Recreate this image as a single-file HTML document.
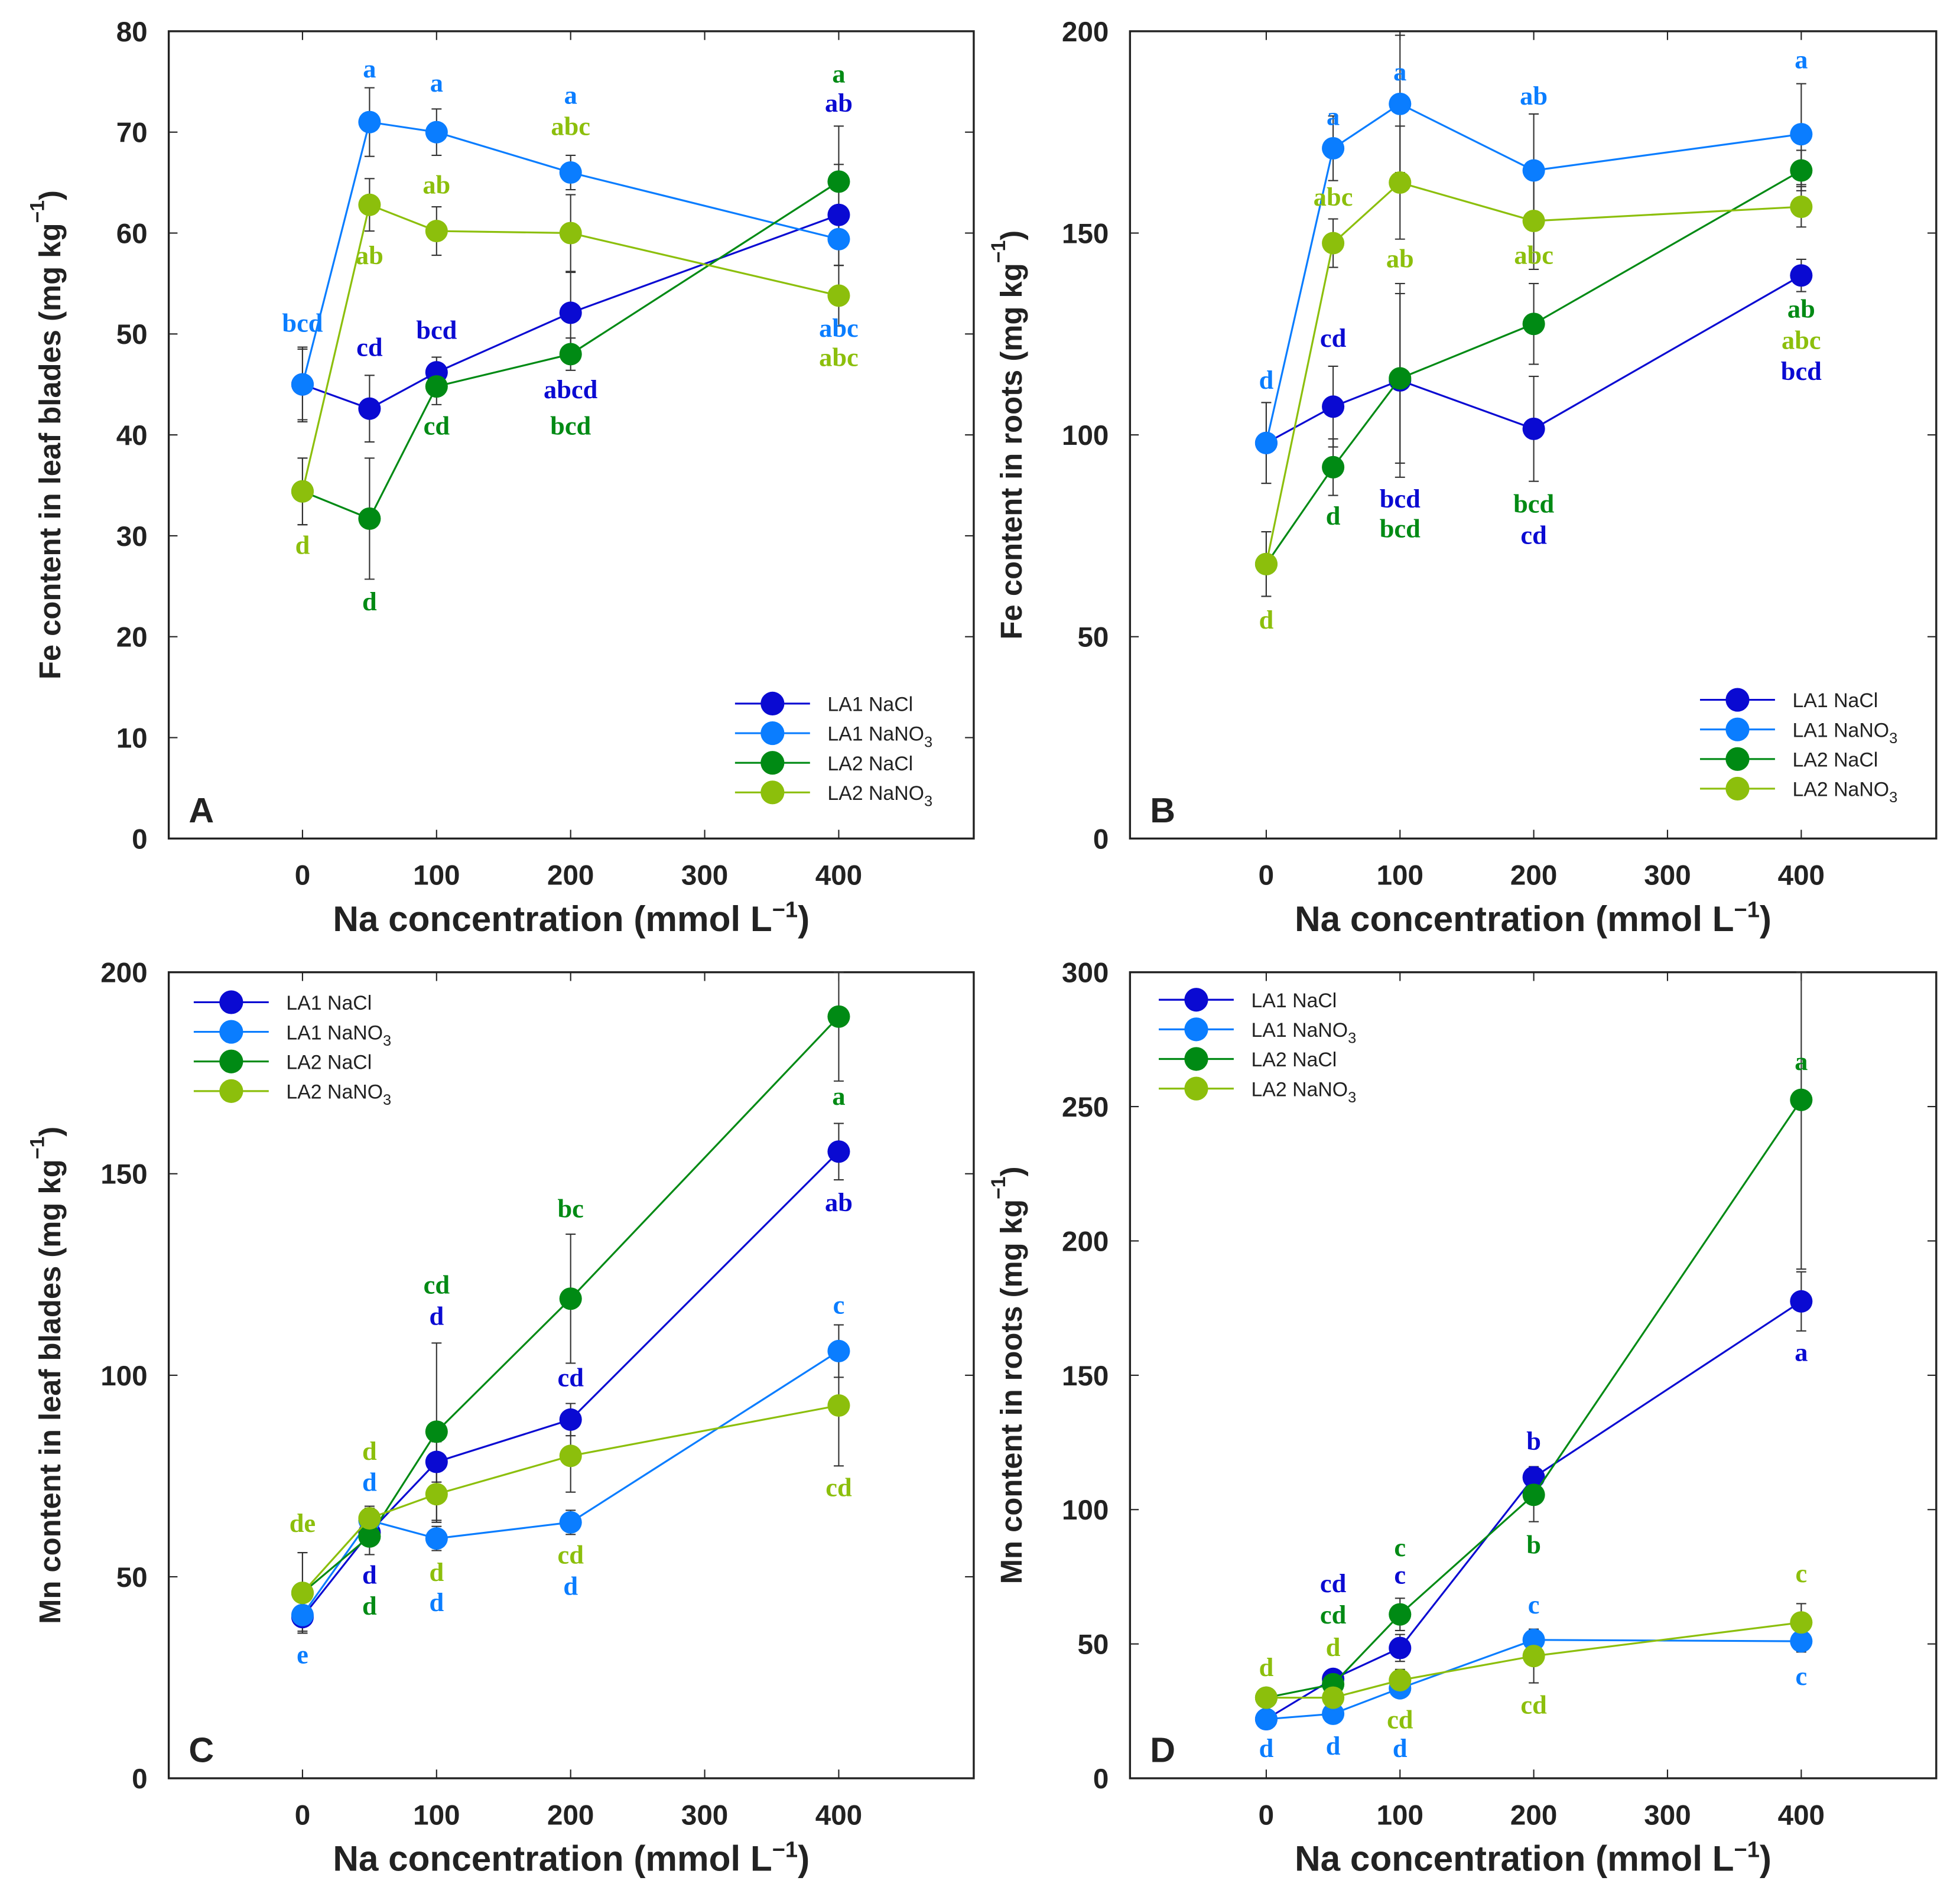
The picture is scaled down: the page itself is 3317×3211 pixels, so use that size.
<!DOCTYPE html>
<html><head><meta charset="utf-8"><style>
html,body{margin:0;padding:0;background:#fff}
svg{display:block}
.tk{font-family:"Liberation Sans",sans-serif;font-weight:bold;font-size:22.5px;fill:#222}
.ttl{font-family:"Liberation Sans",sans-serif;font-weight:bold;fill:#222}
.lab{font-family:"Liberation Serif",serif;font-weight:bold;font-size:21px}
.leg{font-family:"Liberation Sans",sans-serif;font-size:16px;fill:#222}
</style></head><body>
<svg id="fig" width="3317" height="3211" viewBox="0 0 1568 1518" preserveAspectRatio="none" xmlns="http://www.w3.org/2000/svg"></svg>
<script>
const xCats=[0,50,100,200,400];
const xTicks=[0,100,200,300,400];
const seriesNames=["LA1 NaCl","LA1 NaNO3","LA2 NaCl","LA2 NaNO3"];
const seriesColors=["#0a0ad2","#0a7dff","#008a14","#8cbf0c"];
// Panel A: Fe leaf blades
const aTicks=[0,10,20,30,40,50,60,70,80];
const aLA1NaCl=[45,42.6,46.2,52.1,61.8];
const aLA1NaNO3=[45,71,70,66,59.4];
const aLA2NaCl=[34.4,31.7,44.8,48,65.1];
const aLA2NaNO3=[34.4,62.8,60.2,60,53.8];
const aErrLA1NaCl=[3.5,3.3,1.5,4,5];
const aErrLA1NaNO3=[3.7,3.4,2.3,1.7,2.6];
const aErrLA2NaCl=[3.3,6,1.8,1.6,5.5];
const aErrLA2NaNO3=[3.3,2.6,2.4,3.8,3];
const aLabels=[[0,51.1,"bcd",1],[0,29.1,"d",3],[50,76.3,"a",1],[50,57.8,"ab",3],[50,48.7,"cd",0],[50,23.5,"d",2],
[100,74.9,"a",1],[100,64.8,"ab",3],[100,50.4,"bcd",0],[100,40.9,"cd",2],[200,73.7,"a",1],[200,70.6,"abc",3],[200,44.5,"abcd",0],[200,40.9,"bcd",2],
[400,75.8,"a",2],[400,72.9,"ab",0],[400,50.6,"abc",1],[400,47.7,"abc",3]];
// Panel B: Fe roots
const bTicks=[0,50,100,150,200];
const bLA1NaCl=[98,107,113.5,101.5,139.5];
const bLA1NaNO3=[98,171,182,165.5,174.5];
const bLA2NaCl=[68,92,114,127.5,165.5];
const bLA2NaNO3=[68,147.5,162.5,153,156.5];
const bErrLA1NaCl=[10,10,24,13,4];
const bErrLA1NaNO3=[10,8,17,14,12.5];
const bErrLA2NaCl=[8,7,21,10,5];
const bErrLA2NaNO3=[8,6,14,12,5];
const bLabels=[[0,113.6,"d",1],[0,54.2,"d",3],[50,179,"a",1],[50,159,"abc",3],[50,124,"cd",0],[50,80,"d",2],
[100,190,"a",1],[100,143.7,"ab",3],[100,84.2,"bcd",0],[100,76.8,"bcd",2],[200,184,"ab",1],[200,144.6,"abc",3],[200,83,"bcd",2],[200,75.2,"cd",0],
[400,193,"a",1],[400,131.3,"ab",2],[400,123.5,"abc",3],[400,115.8,"bcd",0]];
// Panel C: Mn leaf blades
const cTicks=[0,50,100,150,200];
const cLA1NaCl=[40,61,78.5,89,155.5];
const cLA1NaNO3=[40.5,64,59.5,63.5,106];
const cLA2NaCl=[46,60,86,119,189];
const cLA2NaNO3=[46,64.5,70.5,80,92.5];
const cErrLA1NaCl=[4,3,5,4,7];
const cErrLA1NaNO3=[4,3,3,3,6.5];
const cErrLA2NaCl=[10,4.5,22,16,16];
const cErrLA2NaNO3=[10,3,7,9,15];
const cLabels=[[0,63.3,"de",3],[0,30.7,"e",1],[50,81.2,"d",3],[50,73.5,"d",1],[50,50.5,"d",0],[50,42.8,"d",2],
[100,122.5,"cd",2],[100,114.7,"d",0],[100,51.2,"d",3],[100,43.7,"d",1],[200,141.4,"bc",2],[200,99.5,"cd",0],[200,55.5,"cd",3],[200,47.7,"d",1],
[400,169.3,"a",2],[400,142.9,"ab",0],[400,117.5,"c",1],[400,72.2,"cd",3]];
// Panel D: Mn roots
const dTicks=[0,50,100,150,200,250,300];
const dLA1NaCl=[22,37,48.5,112,177.5];
const dLA1NaNO3=[22,24,33.5,51.5,51];
const dLA2NaCl=[30,35,61,105.5,252.5];
const dLA2NaNO3=[30,30,36.5,45.5,58];
const dErrLA1NaCl=[2,3,5,4,11];
const dErrLA1NaNO3=[2,2,3,4,4];
const dErrLA2NaCl=[2,3,6,10,63];
const dErrLA2NaNO3=[2,2,4,10,7];
const dLabels=[[0,41.4,"d",3],[0,11.2,"d",1],[50,72.6,"cd",0],[50,60.9,"cd",2],[50,48.8,"d",3],[50,12.1,"d",1],
[100,86,"c",2],[100,75.8,"c",0],[100,21.9,"cd",3],[100,11.2,"d",1],[200,125.6,"b",0],[200,87,"b",2],[200,64.6,"c",1],[200,27.4,"cd",3],
[400,267,"a",2],[400,158.6,"a",0],[400,76.3,"c",3],[400,38.1,"c",1]];

const NS="http://www.w3.org/2000/svg";
const svg=document.getElementById('fig');
function mk(tag,attrs,parent){const e=document.createElementNS(NS,tag);for(const k in attrs)e.setAttribute(k,attrs[k]);(parent||svg).appendChild(e);return e;}

const panels=[
 {id:"a",L:135,R:779,T:25,B:671,x0:242,x400:671,yMax:80,ticks:aTicks,vals:[aLA1NaCl,aLA1NaNO3,aLA2NaCl,aLA2NaNO3],errs:[aErrLA1NaCl,aErrLA1NaNO3,aErrLA2NaCl,aErrLA2NaNO3],labels:aLabels,ytitle:"Fe content in leaf blades (mg kg",letter:"A",leg:[588,563],ytx:40},
 {id:"b",L:904,R:1549,T:25,B:671,x0:1013,x400:1441,yMax:200,ticks:bTicks,vals:[bLA1NaCl,bLA1NaNO3,bLA2NaCl,bLA2NaNO3],errs:[bErrLA1NaCl,bErrLA1NaNO3,bErrLA2NaCl,bErrLA2NaNO3],labels:bLabels,ytitle:"Fe content in roots (mg kg",letter:"B",leg:[1360,560],ytx:809},
 {id:"c",L:135,R:779,T:778,B:1423,x0:242,x400:671,yMax:200,ticks:cTicks,vals:[cLA1NaCl,cLA1NaNO3,cLA2NaCl,cLA2NaNO3],errs:[cErrLA1NaCl,cErrLA1NaNO3,cErrLA2NaCl,cErrLA2NaNO3],labels:cLabels,ytitle:"Mn content in leaf blades (mg kg",letter:"C",leg:[155,802],ytx:40},
 {id:"d",L:904,R:1549,T:778,B:1423,x0:1013,x400:1441,yMax:300,ticks:dTicks,vals:[dLA1NaCl,dLA1NaNO3,dLA2NaCl,dLA2NaNO3],errs:[dErrLA1NaCl,dErrLA1NaNO3,dErrLA2NaCl,dErrLA2NaNO3],labels:dLabels,ytitle:"Mn content in roots (mg kg",letter:"D",leg:[927,800],ytx:809}
];

panels.forEach(p=>{
 const g=mk('g',{});
 
 
 const xs=v=>p.x0+(p.x400-p.x0)*v/400;
 const ys=v=>p.B-(p.B-p.T)*v/p.yMax;
 const frame=mk('rect',{x:p.L,y:p.T,width:p.R-p.L,height:p.B-p.T,fill:'none',stroke:'#222','stroke-width':1.6},g);
 
 
 p.ticks.forEach(t=>{
  const y=ys(t);
  mk('line',{x1:p.L,x2:p.L+7,y1:y,y2:y,stroke:'#222','stroke-width':1},g);
  mk('line',{x1:p.R,x2:p.R-7,y1:y,y2:y,stroke:'#222','stroke-width':1},g);
  const tx=mk('text',{x:p.L-17,y:y+8,'text-anchor':'end',class:'tk'},g);
  tx.textContent=t;
  
  
 });
 xTicks.forEach(t=>{
  const x=xs(t);
  mk('line',{x1:x,x2:x,y1:p.B,y2:p.B-7,stroke:'#222','stroke-width':1},g);
  mk('line',{x1:x,x2:x,y1:p.T,y2:p.T+7,stroke:'#222','stroke-width':1},g);
  const tx=mk('text',{x:x,y:p.B+37,'text-anchor':'middle',class:'tk'},g);
  tx.textContent=t;
  
  
 });
 const xt=mk('text',{x:(p.L+p.R)/2,y:p.B+74,'text-anchor':'middle',class:'ttl','font-size':28.5},g);
 xt.innerHTML='Na concentration (mmol L<tspan dy="-11" font-size="18">−1</tspan><tspan dy="11">)</tspan>';
 
 
 const cy=(p.T+p.B)/2;
 const yt=mk('text',{x:p.ytx,y:cy,'text-anchor':'middle',class:'ttl','font-size':24,transform:`rotate(-90 ${p.ytx} ${cy})`,'dominant-baseline':'central'},g);
 yt.innerHTML=p.ytitle+'<tspan dy="-10" font-size="16">−1</tspan><tspan dy="10">)</tspan>';
 
 
 const lt=mk('text',{x:p.L+16,y:p.B-13,class:'ttl','font-size':28},g);
 lt.textContent=p.letter;
 
 
 p.vals.forEach((vals,si)=>{
  vals.forEach((v,i)=>{
   const x=xs(xCats[i]);const e=p.errs[si][i];
   const y1=Math.max(ys(v+e),p.T),y2=Math.min(ys(v-e),p.B);
   const eb=mk('path',{d:`M${x},${y1}V${y2}M${x-4},${y1}H${x+4}M${x-4},${y2}H${x+4}`,stroke:'#333','stroke-width':1,fill:'none'},g);
   
   
  });
 });
 p.vals.forEach((vals,si)=>{
  const ln=mk('polyline',{points:vals.map((v,i)=>xs(xCats[i])+','+ys(v)).join(' '),fill:'none',stroke:seriesColors[si],'stroke-width':1.5},g);
  
  
  vals.forEach((v,i)=>{
   const c=mk('circle',{cx:xs(xCats[i]),cy:ys(v),r:9,fill:seriesColors[si]},g);
   
   
  });
 });
 p.labels.forEach(l=>{
  const t=mk('text',{x:xs(l[0]),y:ys(l[1]),'text-anchor':'middle','dominant-baseline':'central',class:'lab',fill:seriesColors[l[3]]},g);
  t.textContent=l[2];
  
  
 });
 seriesNames.forEach((n,si)=>{
  const lx=p.leg[0],ly=p.leg[1]+si*23.7;
  const le=mk('g',{},g);
  
  
  mk('line',{x1:lx,x2:lx+60,y1:ly,y2:ly,stroke:seriesColors[si],'stroke-width':1.5},le);
  mk('circle',{cx:lx+30,cy:ly,r:9.5,fill:seriesColors[si]},le);
  const t=mk('text',{x:lx+74,y:ly+6,class:'leg'},le);
  t.innerHTML=n.endsWith('NO3')?n.slice(0,-1)+'<tspan dy="5" font-size="12">3</tspan>':n;
 });
});
</script>
</body></html>
